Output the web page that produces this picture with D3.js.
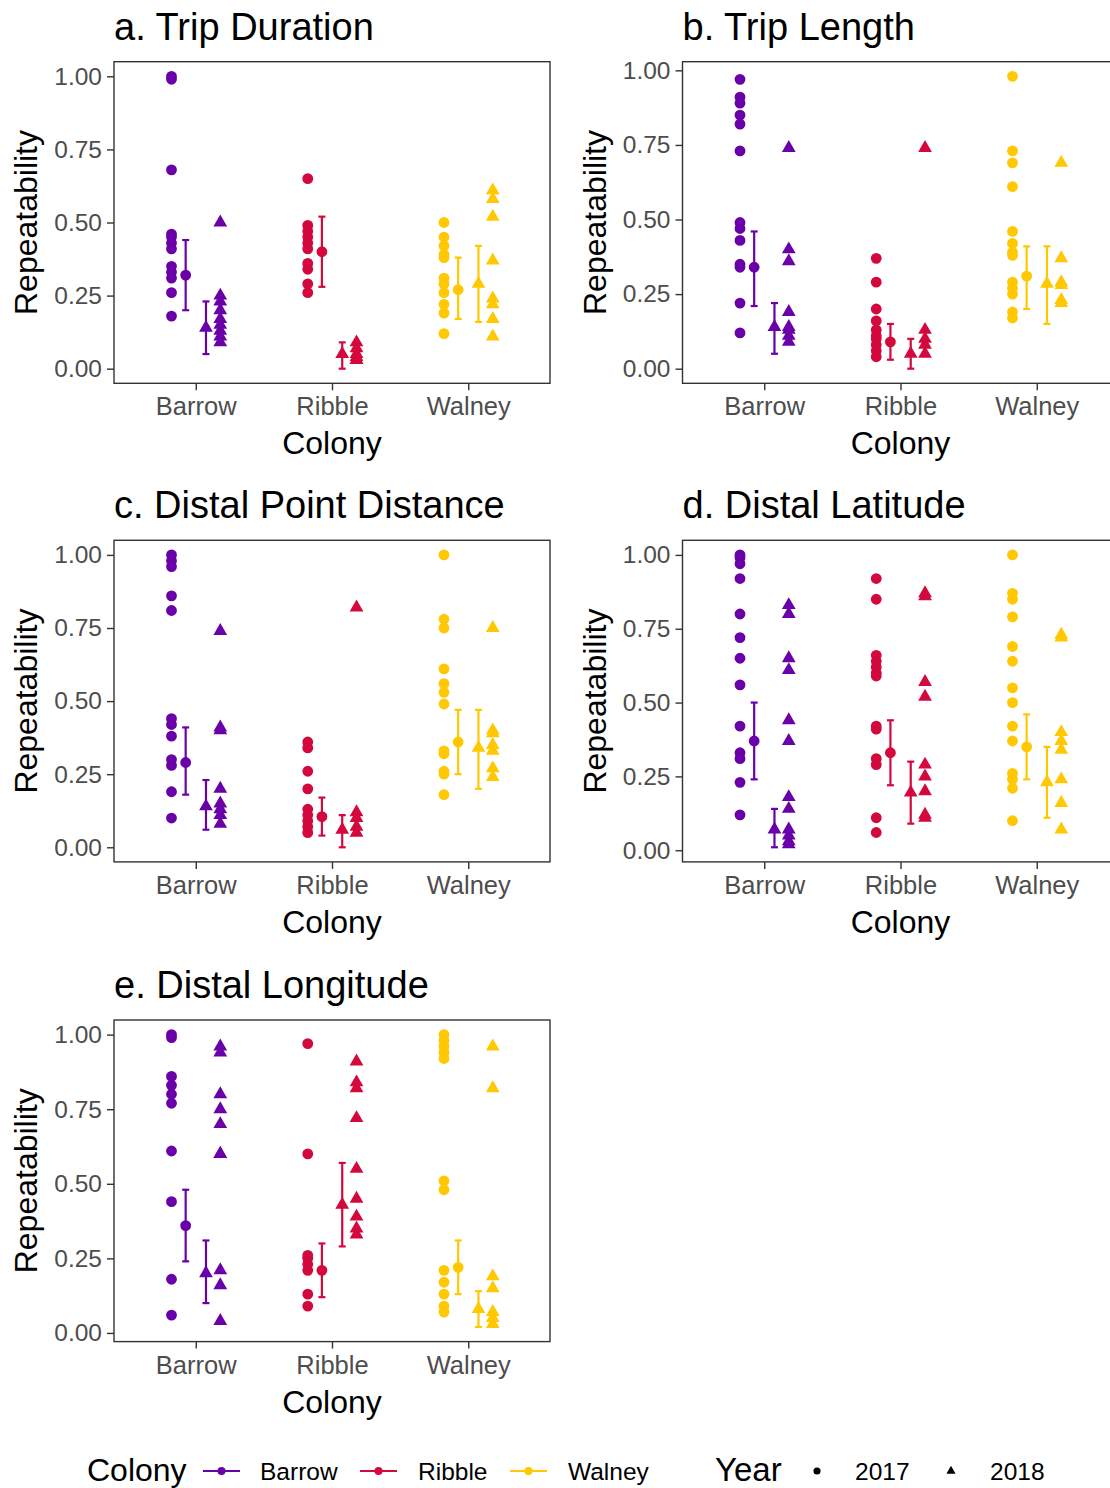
<!DOCTYPE html>
<html>
<head>
<meta charset="utf-8">
<script src="https://cdn.jsdelivr.net/npm/d3@7"></script>
<style>
  body { margin: 0; background: #fff; }
  text { font-family: "Liberation Sans", Arial, sans-serif; }
</style>
</head>
<body>
<div id="chart"></div>
<script>
const colonies = ["Barrow", "Ribble", "Walney"];
const years = ["2017", "2018"];
const yTicks = [0, 0.25, 0.5, 0.75, 1];
const panelTitles = ["a. Trip Duration", "b. Trip Length", "c. Distal Point Distance", "d. Distal Latitude", "e. Distal Longitude"];

// individual repeatability values: [colony, year, values]
const tripDuration = [
  ["Barrow", "2017", [1.00, 0.99, 0.68, 0.46, 0.45, 0.43, 0.41, 0.35, 0.33, 0.31, 0.26, 0.18]],
  ["Barrow", "2018", [0.50, 0.25, 0.23, 0.20, 0.17, 0.15, 0.13, 0.11, 0.09]],
  ["Ribble", "2017", [0.65, 0.49, 0.47, 0.45, 0.43, 0.41, 0.36, 0.34, 0.29, 0.26]],
  ["Ribble", "2018", [0.09, 0.07, 0.05, 0.04, 0.03, 0.03]],
  ["Walney", "2017", [0.50, 0.45, 0.42, 0.39, 0.38, 0.31, 0.29, 0.26, 0.22, 0.19, 0.12]],
  ["Walney", "2018", [0.61, 0.58, 0.52, 0.37, 0.24, 0.22, 0.17, 0.11]]
];
const tripLength = [
  ["Barrow", "2017", [0.97, 0.91, 0.89, 0.85, 0.82, 0.73, 0.49, 0.47, 0.43, 0.35, 0.34, 0.22, 0.12]],
  ["Barrow", "2018", [0.74, 0.40, 0.36, 0.19, 0.14, 0.13, 0.11, 0.09]],
  ["Ribble", "2017", [0.37, 0.29, 0.20, 0.16, 0.13, 0.11, 0.10, 0.08, 0.06, 0.04]],
  ["Ribble", "2018", [0.74, 0.13, 0.10, 0.08, 0.05]],
  ["Walney", "2017", [0.98, 0.73, 0.69, 0.61, 0.46, 0.42, 0.39, 0.38, 0.29, 0.27, 0.25, 0.19, 0.17]],
  ["Walney", "2018", [0.69, 0.37, 0.29, 0.28, 0.23, 0.22]]
];
const distalDistance = [
  ["Barrow", "2017", [1.00, 0.98, 0.96, 0.86, 0.81, 0.44, 0.42, 0.38, 0.30, 0.28, 0.19, 0.10]],
  ["Barrow", "2018", [0.74, 0.41, 0.40, 0.20, 0.15, 0.13, 0.11, 0.08]],
  ["Ribble", "2017", [0.36, 0.34, 0.26, 0.20, 0.13, 0.11, 0.09, 0.07, 0.05]],
  ["Ribble", "2018", [0.82, 0.12, 0.10, 0.07, 0.05]],
  ["Walney", "2017", [1.00, 0.78, 0.75, 0.61, 0.56, 0.53, 0.49, 0.33, 0.32, 0.26, 0.25, 0.18]],
  ["Walney", "2018", [0.75, 0.40, 0.39, 0.35, 0.33, 0.27, 0.24]]
];
const distalLatitude = [
  ["Barrow", "2017", [1.00, 0.99, 0.97, 0.92, 0.80, 0.72, 0.65, 0.56, 0.42, 0.33, 0.31, 0.23, 0.12]],
  ["Barrow", "2018", [0.83, 0.80, 0.65, 0.61, 0.44, 0.37, 0.18, 0.14, 0.07, 0.05, 0.03, 0.02]],
  ["Ribble", "2017", [0.92, 0.85, 0.66, 0.64, 0.62, 0.60, 0.59, 0.42, 0.41, 0.31, 0.29, 0.11, 0.06]],
  ["Ribble", "2018", [0.87, 0.86, 0.57, 0.52, 0.29, 0.25, 0.20, 0.12, 0.11]],
  ["Walney", "2017", [1.00, 0.87, 0.85, 0.79, 0.69, 0.64, 0.55, 0.50, 0.42, 0.37, 0.26, 0.24, 0.21, 0.10]],
  ["Walney", "2018", [0.73, 0.72, 0.40, 0.37, 0.34, 0.24, 0.16, 0.07]]
];
const distalLongitude = [
  ["Barrow", "2017", [1.00, 0.99, 0.86, 0.83, 0.80, 0.77, 0.61, 0.44, 0.18, 0.06]],
  ["Barrow", "2018", [0.96, 0.94, 0.80, 0.75, 0.70, 0.60, 0.60, 0.21, 0.16, 0.04]],
  ["Ribble", "2017", [0.97, 0.60, 0.26, 0.25, 0.23, 0.21, 0.13, 0.09]],
  ["Ribble", "2018", [0.91, 0.84, 0.82, 0.72, 0.55, 0.45, 0.39, 0.35, 0.33]],
  ["Walney", "2017", [1.00, 0.98, 0.96, 0.94, 0.92, 0.51, 0.48, 0.21, 0.17, 0.13, 0.09, 0.07]],
  ["Walney", "2018", [0.96, 0.82, 0.19, 0.15, 0.07, 0.05, 0.03]]
];

// mean repeatability with interval: [colony, year, mean, lower, upper]
const tripDurationMeans = [
  ["Barrow", "2017", 0.32, 0.20, 0.44], ["Barrow", "2018", 0.14, 0.05, 0.23],
  ["Ribble", "2017", 0.40, 0.28, 0.52], ["Ribble", "2018", 0.05, 0.00, 0.09],
  ["Walney", "2017", 0.27, 0.17, 0.38], ["Walney", "2018", 0.29, 0.16, 0.42]
];
const tripLengthMeans = [
  ["Barrow", "2017", 0.34, 0.21, 0.46], ["Barrow", "2018", 0.14, 0.05, 0.22],
  ["Ribble", "2017", 0.09, 0.03, 0.15], ["Ribble", "2018", 0.05, 0.00, 0.10],
  ["Walney", "2017", 0.31, 0.20, 0.41], ["Walney", "2018", 0.285, 0.15, 0.41]
];
const distalDistanceMeans = [
  ["Barrow", "2017", 0.29, 0.18, 0.41], ["Barrow", "2018", 0.14, 0.06, 0.23],
  ["Ribble", "2017", 0.105, 0.04, 0.17], ["Ribble", "2018", 0.06, 0.00, 0.11],
  ["Walney", "2017", 0.36, 0.25, 0.47], ["Walney", "2018", 0.34, 0.20, 0.47]
];
const distalLatitudeMeans = [
  ["Barrow", "2017", 0.37, 0.24, 0.50], ["Barrow", "2018", 0.07, 0.01, 0.14],
  ["Ribble", "2017", 0.33, 0.22, 0.44], ["Ribble", "2018", 0.195, 0.09, 0.30],
  ["Walney", "2017", 0.35, 0.24, 0.46], ["Walney", "2018", 0.23, 0.11, 0.35]
];
const distalLongitudeMeans = [
  ["Barrow", "2017", 0.36, 0.24, 0.48], ["Barrow", "2018", 0.20, 0.10, 0.31],
  ["Ribble", "2017", 0.21, 0.12, 0.30], ["Ribble", "2018", 0.43, 0.29, 0.57],
  ["Walney", "2017", 0.22, 0.13, 0.31], ["Walney", "2018", 0.08, 0.02, 0.14]
];

const panelPoints = [tripDuration, tripLength, distalDistance, distalLatitude, distalLongitude];
const panelMeans = [tripDurationMeans, tripLengthMeans, distalDistanceMeans, distalLatitudeMeans, distalLongitudeMeans];

// layout
const W = 1110, H = 1488;
const boxW = 436, boxH = 321.6;
const boxes = [[114, 61.7], [682.5, 61.7], [114, 540.3], [682.5, 540.3], [114, 1020]];
const font = '"Liberation Sans", Arial, sans-serif';

const colour = d3.scaleOrdinal().domain(colonies).range(["#6A00A8", "#D3093D", "#FFC800"]);
const shape = d3.scaleOrdinal().domain(years).range([d3.symbolCircle, d3.symbolTriangle]);
// dodge offsets, in units of category step
const pointOffset = d3.scaleOrdinal().domain(years).range([-0.178, 0.18]);
const meanOffset = d3.scaleOrdinal().domain(years).range([-0.074, 0.075]);

const svg = d3.select("#chart").append("svg")
  .attr("width", W).attr("height", H);

function drawPanel(i) {
  const [left, top] = boxes[i];
  const points = panelPoints[i];
  const means = panelMeans[i];

  const g = svg.append("g").attr("transform", `translate(${left},${top})`);

  const x = d3.scalePoint().domain(colonies).range([0, boxW]).padding(0.6);

  const allVals = points.flatMap(d => d[2]).concat(means.flatMap(d => [d[3], d[4]]));
  const [lo, hi] = d3.extent(allVals);
  const pad = (hi - lo) * 0.05;
  const y = d3.scaleLinear().domain([lo - pad, hi + pad]).range([boxH, 0]);

  // panel border
  g.append("rect")
    .attr("width", boxW).attr("height", boxH)
    .attr("fill", "none").attr("stroke", "#333").attr("stroke-width", 1.4);

  // axes
  const yAxis = g.append("g")
    .call(d3.axisLeft(y).tickValues(yTicks).tickFormat(d3.format(".2f")).tickSizeOuter(0).tickSize(7).tickPadding(5));
  yAxis.select(".domain").remove();
  yAxis.selectAll("line").attr("stroke", "#333").attr("stroke-width", 1.4);
  yAxis.selectAll("text").attr("fill", "#4D4D4D").style("font-size", "24.5px").style("font-family", font);

  const xAxis = g.append("g").attr("transform", `translate(0,${boxH})`)
    .call(d3.axisBottom(x).tickSizeOuter(0).tickSize(7).tickPadding(7));
  xAxis.select(".domain").remove();
  xAxis.selectAll("line").attr("stroke", "#333").attr("stroke-width", 1.4);
  xAxis.selectAll("text").attr("fill", "#4D4D4D").style("font-size", "25.5px").style("font-family", font);

  // titles
  g.append("text")
    .attr("x", 0).attr("y", -22)
    .style("font-size", "38px").attr("fill", "#000")
    .text(panelTitles[i]);

  g.append("text")
    .attr("x", boxW / 2).attr("y", boxH + 71)
    .attr("text-anchor", "middle")
    .style("font-size", "32px").attr("fill", "#000")
    .text("Colony");

  g.append("text")
    .attr("transform", `translate(-77,${boxH / 2}) rotate(-90)`)
    .attr("text-anchor", "middle")
    .style("font-size", "32px").attr("fill", "#000")
    .text("Repeatability");

  // individual points
  const flat = points.flatMap(([c, yr, vals]) => vals.map(v => ({colony: c, year: yr, value: v})));
  g.selectAll("path.pt")
    .data(flat)
    .enter()
    .append("path")
    .attr("class", "pt")
    .attr("d", d => d3.symbol().type(shape(d.year)).size(d.year === "2017" ? 92 : 82)())
    .attr("transform", d => `translate(${x(d.colony) + pointOffset(d.year) * x.step()},${y(d.value)})`)
    .attr("fill", d => colour(d.colony));

  // mean and interval
  const mg = g.selectAll("g.mean")
    .data(means)
    .enter()
    .append("g")
    .attr("class", "mean")
    .attr("transform", d => `translate(${x(d[0]) + meanOffset(d[1]) * x.step()},0)`);

  mg.append("line")
    .attr("y1", d => y(d[3])).attr("y2", d => y(d[4]))
    .attr("stroke", d => colour(d[0])).attr("stroke-width", 2.2);
  mg.append("line")
    .attr("x1", -3.5).attr("x2", 3.5)
    .attr("y1", d => y(d[3])).attr("y2", d => y(d[3]))
    .attr("stroke", d => colour(d[0])).attr("stroke-width", 2.2);
  mg.append("line")
    .attr("x1", -3.5).attr("x2", 3.5)
    .attr("y1", d => y(d[4])).attr("y2", d => y(d[4]))
    .attr("stroke", d => colour(d[0])).attr("stroke-width", 2.2);
  mg.append("path")
    .attr("d", d => d3.symbol().type(shape(d[1])).size(d[1] === "2017" ? 92 : 82)())
    .attr("transform", d => `translate(0,${y(d[2])})`)
    .attr("fill", d => colour(d[0]));
}

for (let i = 0; i < panelTitles.length; i++) drawPanel(i);

// legend
const leg = svg.append("g");
const legY = 1471;
leg.append("text").attr("x", 87).attr("y", 1481)
  .style("font-size", "32px").text("Colony");

const keyX = [203, 360, 510];
const keyTextX = [260, 418, 568];
colonies.forEach((c, i) => {
  leg.append("line")
    .attr("x1", keyX[i]).attr("x2", keyX[i] + 37)
    .attr("y1", legY).attr("y2", legY)
    .attr("stroke", colour(c)).attr("stroke-width", 2.2);
  leg.append("circle")
    .attr("cx", keyX[i] + 18.5).attr("cy", legY).attr("r", 4)
    .attr("fill", colour(c));
  leg.append("text")
    .attr("x", keyTextX[i]).attr("y", 1480)
    .style("font-size", "24.5px").text(c);
});

leg.append("text").attr("x", 715).attr("y", 1481)
  .style("font-size", "33px").text("Year");

const yearKeyX = [817, 951];
const yearTextX = [855, 990];
years.forEach((yr, i) => {
  leg.append("path")
    .attr("d", d3.symbol().type(shape(yr)).size(i === 0 ? 40 : 36)())
    .attr("transform", `translate(${yearKeyX[i]},${legY})`)
    .attr("fill", "#000");
  leg.append("text")
    .attr("x", yearTextX[i]).attr("y", 1480)
    .style("font-size", "24.5px").text(yr);
});
</script>
</body>
</html>
